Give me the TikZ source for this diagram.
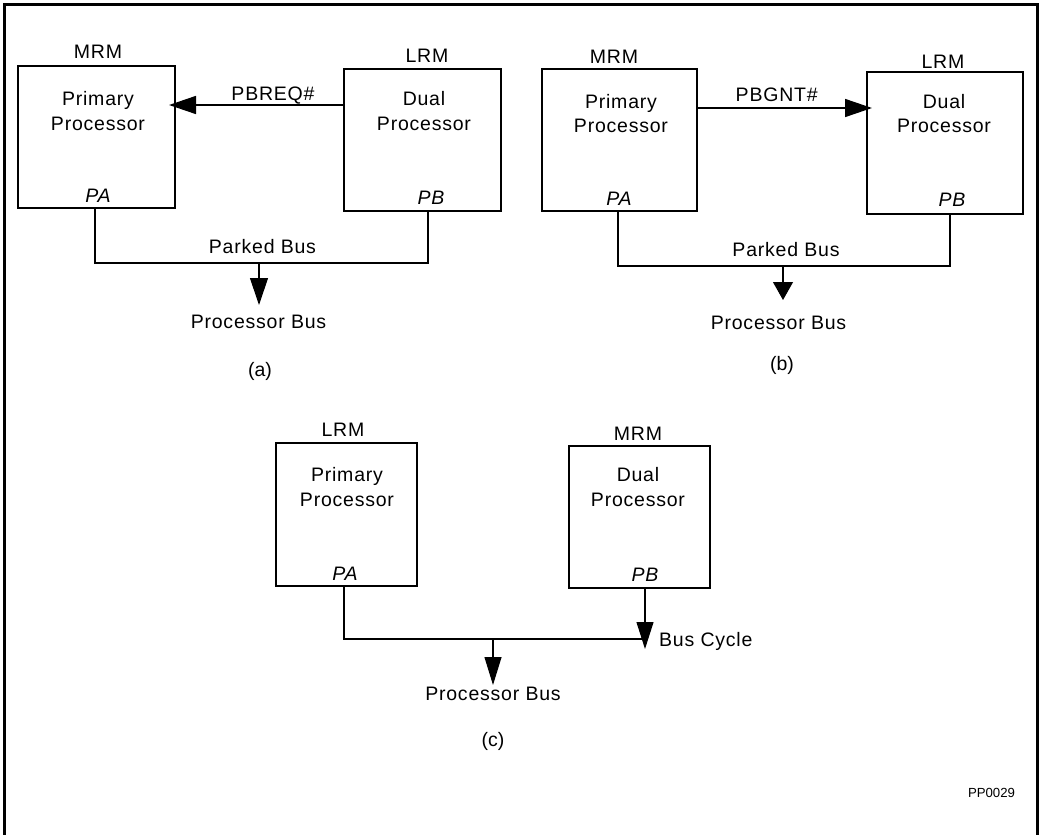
\documentclass[tikz,border=0pt]{standalone}
\usepackage{fontspec}
\newfontfamily\lbl[LetterSpace=4]{Liberation Sans}
\newfontfamily\plain{Liberation Sans}
\usetikzlibrary{arrows.meta}
\tikzset{
  cpu/.style={draw, line width=2.5pt, rectangle, inner sep=0pt},
  txt/.style={font=\fontsize{19.5}{23}\lbl, anchor=base, inner sep=0pt},
  itxt/.style={font=\fontsize{19.5}{23}\lbl\itshape, anchor=base, inner sep=0pt},
  bus/.style={line width=1.1pt},
  sig/.style={line width=1.5pt},
  bigtip/.style={-{Triangle[length=27pt,width=18pt]}},
  smalltip/.style={-{Triangle[length=18pt,width=20pt]}},
}
\begin{document}
\begin{tikzpicture}[x=1pt,y=-1pt]
\useasboundingbox (0,0) rectangle (1044,835);
\draw[line width=2.7pt] (4.7,835) -- (4.7,4.7) -- (1037.5,4.7) -- (1037.5,835);

% ---------- (a)
\node[cpu, minimum width=157pt, minimum height=142pt] (al) at (96.5,137) {};
\node[cpu, minimum width=157pt, minimum height=142pt] (ar) at (422.5,140) {};
\node[txt] (alT) at (98,58.5) {MRM};
\node[txt] (arT) at (427,62.5) {LRM};
\node[txt] (al1) at (98,105.7) {Primary};
\node[txt] (al2) at (98,130) {Processor};
\node[txt] (ar1) at (424,105.7) {Dual};
\node[txt] (ar2) at (424,130) {Processor};
\node[itxt] (alP) at (98,202.7) {PA};
\node[itxt] (arP) at (431,204) {PB};
\coordinate (reqE) at (169,105);
\draw[sig, bigtip] (ar.west |- reqE) -- (reqE);
\node[txt] (reqL) at (273,100) {PBREQ\#};
\coordinate (jA) at (259,263);
\coordinate (tA) at (259,305);
\draw[bus] ([xshift=-1.5pt]al.south) |- (jA) -| ([xshift=5.5pt]ar.south);
\draw[bus, bigtip] (jA) -- (tA);
\node[txt] (pkA) at (262.5,253.3) {Parked Bus};
\node[txt] (pbA) at (258.5,328.3) {Processor Bus};
\node[font=\fontsize{19.5}{23}\plain, anchor=base, inner sep=0pt] (capA) at (260,376) {(a)};

% ---------- (b)
\node[cpu, minimum width=155pt, minimum height=142pt] (bl) at (619.5,140) {};
\node[cpu, minimum width=156pt, minimum height=142pt] (br) at (945,143) {};
\node[txt] (blT) at (614,63.3) {MRM};
\node[txt] (brT) at (943,68.3) {LRM};
\node[txt] (bl1) at (621,108.3) {Primary};
\node[txt] (bl2) at (621,132.3) {Processor};
\node[txt] (br1) at (944,108.3) {Dual};
\node[txt] (br2) at (944,132.3) {Processor};
\node[itxt] (blP) at (619,205) {PA};
\node[itxt] (brP) at (952,206.7) {PB};
\coordinate (gntE) at (872,108);
\draw[sig, bigtip] (bl.east |- gntE) -- (gntE);
\node[txt] (gntL) at (776.7,101.7) {PBGNT\#};
\coordinate (jB) at (783,266);
\coordinate (tB) at (783,300);
\draw[bus] ([xshift=-1.5pt]bl.south) |- (jB) -| ([xshift=5pt]br.south);
\draw[bus, smalltip] (jB) -- (tB);
\node[txt] (pkB) at (786,256) {Parked Bus};
\node[txt] (pbB) at (778.5,329.3) {Processor Bus};
\node[font=\fontsize{19.5}{23}\plain, anchor=base, inner sep=0pt] (capB) at (782,370) {(b)};

% ---------- (c)
\node[cpu, minimum width=141pt, minimum height=143pt] (cl) at (346.5,514.5) {};
\node[cpu, minimum width=141pt, minimum height=142pt] (cr) at (639.5,517) {};
\node[txt] (clT) at (343,436.7) {LRM};
\node[txt] (crT) at (638,440) {MRM};
\node[txt] (cl1) at (347,481.7) {Primary};
\node[txt] (cl2) at (347,506) {Processor};
\node[txt] (cr1) at (638,481.7) {Dual};
\node[txt] (cr2) at (638,506) {Processor};
\node[itxt] (clP) at (345,580) {PA};
\node[itxt] (crP) at (645,581.7) {PB};
\coordinate (jC) at (493,639);
\coordinate (eC) at (645,639);
\coordinate (tC) at (493,685);
\coordinate (tC2) at (645,649);
\draw[bus] ([xshift=-2.5pt]cl.south) |- (eC);
\draw[bus, {-Triangle[length=27pt,width=17pt]}] ([xshift=5.5pt]cr.south) -- (tC2);
\draw[bus, {-Triangle[length=28pt,width=17pt]}] (jC) -- (tC);
\node[txt, anchor=base west] (bcC) at (659,646.7) {Bus Cycle};
\node[txt] (pbC) at (493,700.7) {Processor Bus};
\node[font=\fontsize{19.5}{23}\plain, anchor=base, inner sep=0pt] (capC) at (493,746.7) {(c)};

\node[font=\fontsize{13.2}{15}\plain, anchor=base, inner sep=0pt] (id) at (991.5,797.5) {PP0029};
\end{tikzpicture}
\end{document}
